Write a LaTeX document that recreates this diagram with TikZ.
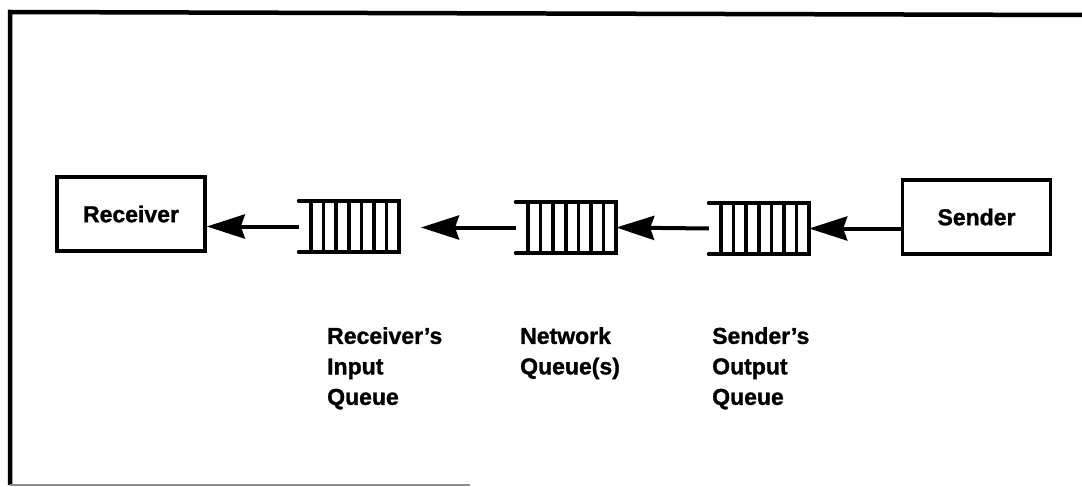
\documentclass[tikz,border=0pt]{standalone}
\usepackage{fontspec}
\setmainfont{Liberation Sans}[BoldFeatures={FakeBold=1.2}]
\usetikzlibrary{arrows.meta,calc}
\tikzset{
  box/.style={draw, line width=3.6pt, minimum width=148pt, minimum height=74pt, inner sep=0pt,
    font=\fontsize{23}{27}\selectfont\bfseries},
  qnode/.style={minimum width=100pt, minimum height=51pt, inner sep=0pt},
  qline/.style={line width=4pt, line cap=round},
  arr/.style={line width=4pt, -{Stealth[length=38pt, width=24pt, inset=4pt]}},
  lbl/.style={align=left, inner sep=0pt, anchor=north west,
    font=\fontsize{23}{30.5}\selectfont\bfseries},
  frame/.style={line width=4.5pt}
}
\newcommand{\drawqueue}[1]{%
  \draw[qline] ($(#1.north west)$) -- (#1.north east) -- (#1.south east) -- (#1.south west);
  \foreach \i in {0,...,6}{
    \draw[line width=3.6pt] ($(#1.north west)!{(12+\i*12.57)/100}!(#1.north east)$) --
      ($(#1.south west)!{(12+\i*12.57)/100}!(#1.south east)$);
  }
}
\begin{document}
\begin{tikzpicture}[x=1pt,y=-1pt]
\useasboundingbox (0,0) rectangle (1082,487);
% frame
\coordinate (f1) at (10,485);
\coordinate (f2) at (10,12);
\coordinate (f3) at (1082,15);
\coordinate (f4) at (470,485);
\draw[frame] (f1) -- (f2) -- (f3);
\draw[line width=1.5pt, black!45] (f1) -- (f4);
% boxes
\node[box] (rec) at (131,214) {Receiver};
\node[box] (snd) at (976.5,217) {Sender};
% queues
\node[qnode] (q1) at (349,226.5) {};
\node[qnode] (q2) at (566,227.5) {};
\node[qnode] (q3) at (759,228.5) {};
\drawqueue{q1}
\drawqueue{q2}
\drawqueue{q3}
% arrows
\coordinate (gap) at (421,227.5);
\draw[arr] (snd.west |- q3.east) -- (q3.east);
\draw[arr] (q3.west) -- (q2.east);
\draw[arr] (q2.west) -- (gap);
\draw[arr] (q1.west) -- (q1.west -| rec.east);
% labels
\node[lbl] (l1) at (327,327) {Receiver's\\Input\\Queue};
\node[lbl] (l2) at (520,327) {Network\\Queue(s)};
\node[lbl] (l3) at (712,327) {Sender's\\Output\\Queue};
\end{tikzpicture}
\end{document}
